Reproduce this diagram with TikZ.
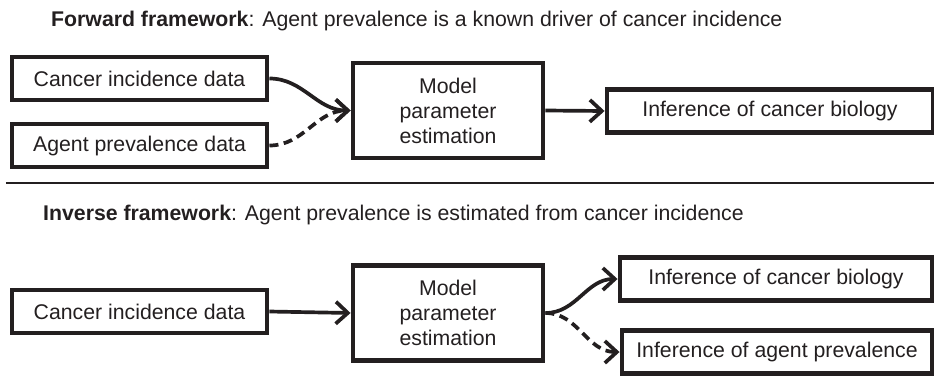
\documentclass[tikz,border=0pt]{standalone}
\usepackage{fontspec}
\setmainfont{Liberation Sans}
\usetikzlibrary{arrows.meta}
\definecolor{inkgray}{HTML}{231F20}

\begin{document}
\begin{tikzpicture}[
    font=\fontsize{12.1}{14.2}\selectfont,
    databox/.style={draw=inkgray, line width=2.8pt, text=inkgray, minimum height=0.86cm, inner sep=0pt},
    modelbox/.style={databox, minimum width=3.8cm, minimum height=1.9cm, align=center},
    flow/.style={draw=inkgray, line width=2.1pt, -{Straight Barb[length=2.4mm,width=4.4mm]}},
    guess/.style={flow, dash pattern=on 1.8mm off 1.1mm}
]
    \useasboundingbox (0,0) rectangle (18.68,7.52);

    % forward framework
    \node[anchor=base west, text=inkgray] (fwdtitle) at (0.9,7.0) {\textbf{Forward framework}: Agent prevalence is a known driver of cancer incidence};
    \node[databox, minimum width=5.1cm] (fwdcancer) at (2.79,5.95) {Cancer incidence data};
    \node[databox, minimum width=5.1cm] (fwdagent) at (2.79,4.61) {Agent prevalence data};
    \node[modelbox] (fwdmodel) at (8.96,5.31) {Model\\parameter\\estimation};
    \node[databox, minimum width=6.52cm] (fwdbio) at (15.40,5.30) {Inference of cancer biology};

    \draw[flow] (fwdcancer.east) to[out=0,in=180] (fwdmodel.west);
    \draw[guess] (fwdagent.east) to[out=0,in=180] (fwdmodel.west);
    \draw[flow] (fwdmodel.east) -- (fwdbio.west);

    % separator
    \coordinate (sepleft) at (0.12,3.86);
    \coordinate (sepright) at (18.68,3.86);
    \draw[inkgray, line width=1.3pt] (sepleft) -- (sepright);

    % inverse framework
    \node[anchor=base west, text=inkgray] (invtitle) at (0.74,3.11) {\textbf{Inverse framework}: Agent prevalence is estimated from cancer incidence};
    \node[databox, minimum width=5.1cm] (invcancer) at (2.79,1.29) {Cancer incidence data};
    \node[modelbox] (invmodel) at (8.96,1.26) {Model\\parameter\\estimation};
    \node[databox, minimum width=6.24cm] (invbio) at (15.52,1.94) {Inference of cancer biology};
    \node[databox, minimum width=6.2cm] (invagent) at (15.54,0.48) {Inference of agent prevalence};

    \draw[flow] (invcancer.east) -- (invmodel.west);
    \draw[flow] (invmodel.east) to[out=0,in=180] (invbio.west);
    \draw[guess] (invmodel.east) to[out=0,in=180] (invagent.west);
\end{tikzpicture}
\end{document}
